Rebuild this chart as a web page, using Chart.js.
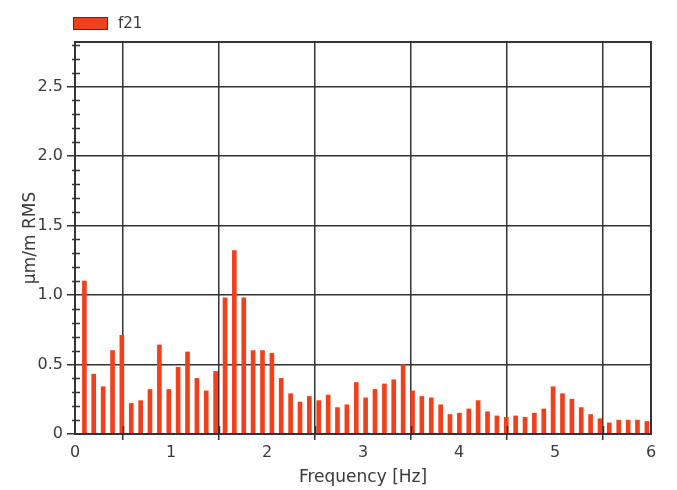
<!DOCTYPE html>
<html>
<head>
<meta charset="utf-8">
<script src="https://cdn.jsdelivr.net/npm/chart.js@4/dist/chart.umd.min.js"></script>
<style>
  html, body { margin: 0; padding: 0; background: #ffffff; }
  #wrap { width: 677px; height: 490px; position: relative; }
</style>
</head>
<body>
<div id="wrap"><canvas id="chart" width="677" height="490"></canvas></div>
<script>
// frequency bins (Hz) and spectrum values
const freqs = [
  0.098, 0.195, 0.293, 0.391, 0.488, 0.586, 0.684, 0.781, 0.879, 0.977,
  1.074, 1.172, 1.270, 1.367, 1.465, 1.563, 1.660, 1.758, 1.855, 1.953,
  2.051, 2.148, 2.246, 2.344, 2.441, 2.539, 2.637, 2.734, 2.832, 2.930,
  3.027, 3.125, 3.223, 3.320, 3.418, 3.516, 3.613, 3.711, 3.809, 3.906,
  4.004, 4.102, 4.199, 4.297, 4.395, 4.492, 4.590, 4.688, 4.785, 4.883,
  4.980, 5.078, 5.176, 5.273, 5.371, 5.469, 5.566, 5.664, 5.762, 5.859,
  5.957
];
const f21 = [
  1.10, 0.43, 0.34, 0.60, 0.71, 0.22, 0.24, 0.32, 0.64, 0.32,
  0.48, 0.59, 0.40, 0.31, 0.45, 0.98, 1.32, 0.98, 0.60, 0.60,
  0.58, 0.40, 0.29, 0.23, 0.27, 0.24, 0.28, 0.19, 0.21, 0.37,
  0.26, 0.32, 0.36, 0.39, 0.50, 0.31, 0.27, 0.26, 0.21, 0.14,
  0.15, 0.18, 0.24, 0.16, 0.13, 0.12, 0.13, 0.12, 0.15, 0.18,
  0.34, 0.29, 0.25, 0.19, 0.14, 0.11, 0.08, 0.10, 0.10, 0.10,
  0.09
];

const xTicks = [0, 1, 2, 3, 4, 5, 6];
const xMinor = [0.5, 1.5, 2.5, 3.5, 4.5, 5.5];
const yTicks = [0, 0.5, 1.0, 1.5, 2.0, 2.5];
const yTickLabels = ['0', '0.5', '1.0', '1.5', '2.0', '2.5'];
const yMinor = [0.1, 0.2, 0.3, 0.4, 0.6, 0.7, 0.8, 0.9, 1.1, 1.2, 1.3, 1.4,
  1.6, 1.7, 1.8, 1.9, 2.1, 2.2, 2.3, 2.4, 2.6, 2.7, 2.8];

const barColor = '#f0401c';
const lineColor = '#333338';
const textColor = '#3a3a3a';
const fontFamily = '"DejaVu Sans", Verdana, sans-serif';

// frame, minor ticks and the legend
const decorations = {
  id: 'decorations',
  afterDraw(chart) {
    const { ctx, chartArea: a, scales: { x, y } } = chart;
    ctx.save();
    ctx.strokeStyle = lineColor;
    ctx.lineWidth = 2;
    ctx.strokeRect(a.left, a.top, a.right - a.left, a.bottom - a.top);

    ctx.lineWidth = 1.5;
    ctx.beginPath();
    yMinor.forEach(v => {
      const py = Math.round(y.getPixelForValue(v)) + 0.5;
      ctx.moveTo(a.left - 3, py);
      ctx.lineTo(a.left + 5, py);
    });
    xMinor.forEach(v => {
      const px = Math.round(x.getPixelForValue(v)) + 0.5;
      ctx.moveTo(px, a.bottom);
      ctx.lineTo(px, a.bottom - 8);
    });
    ctx.stroke();

    // legend
    const ds = chart.data.datasets[0];
    ctx.fillStyle = ds.backgroundColor;
    ctx.fillRect(73, 17, 35, 13);
    ctx.strokeStyle = '#5a2a20';
    ctx.lineWidth = 1;
    ctx.strokeRect(73.5, 17.5, 34, 12);
    ctx.fillStyle = textColor;
    ctx.font = '15px ' + fontFamily;
    ctx.textBaseline = 'middle';
    ctx.fillText(ds.label, 118, 24);
    ctx.restore();
  }
};

new Chart(document.getElementById('chart'), {
  type: 'bar',
  data: {
    datasets: [{
      label: 'f21',
      data: freqs.map((f, i) => ({ x: f, y: f21[i] })),
      backgroundColor: barColor,
      borderWidth: 0,
      barThickness: 4
    }]
  },
  options: {
    responsive: false,
    animation: false,
    layout: { padding: { top: 42, right: 26, left: 0, bottom: 0 } },
    plugins: {
      legend: { display: false },
      tooltip: { enabled: false }
    },
    scales: {
      x: {
        type: 'linear',
        min: 0,
        max: 6,
        offset: false,
        afterBuildTicks: s => { s.ticks = xTicks.map(v => ({ value: v })); },
        afterFit: s => { s.height = 56; },
        ticks: {
          color: textColor,
          font: { family: fontFamily, size: 16 },
          padding: 3,
          maxRotation: 0,
          callback: v => String(v)
        },
        grid: { color: lineColor, lineWidth: 1.5, tickLength: 6, tickColor: lineColor },
        border: { color: lineColor, width: 2 },
        title: {
          display: true,
          text: 'Frequency [Hz]',
          color: textColor,
          font: { family: fontFamily, size: 17 },
          padding: { top: 0, bottom: 2 }
        }
      },
      y: {
        min: 0,
        max: 2.82,
        afterBuildTicks: s => { s.ticks = yTicks.map(v => ({ value: v })); },
        afterFit: s => { s.width = 75; },
        ticks: {
          color: textColor,
          font: { family: fontFamily, size: 16 },
          padding: 4,
          callback: v => yTickLabels[yTicks.indexOf(v)]
        },
        grid: { color: lineColor, lineWidth: 1.5, tickLength: 8, tickColor: lineColor },
        border: { color: lineColor, width: 2 },
        title: {
          display: true,
          text: 'µm/m RMS',
          color: textColor,
          font: { family: fontFamily, size: 17 },
          padding: { top: 20, bottom: 0 }
        }
      }
    }
  },
  plugins: [decorations]
});
</script>
</body>
</html>
